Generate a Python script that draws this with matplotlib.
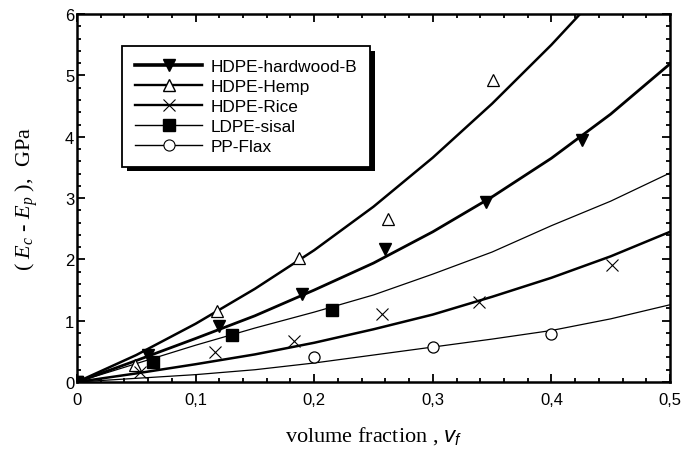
import matplotlib
matplotlib.use("Agg")
import matplotlib.pyplot as plt
from matplotlib.lines import Line2D
from matplotlib.patches import Rectangle
from matplotlib.ticker import MultipleLocator, FuncFormatter

plt.rcParams['font.family'] = ['Liberation Sans', 'DejaVu Sans']
plt.rcParams['mathtext.fontset'] = 'custom'
plt.rcParams['mathtext.rm'] = 'Liberation Serif'
plt.rcParams['mathtext.it'] = 'Liberation Serif:italic'
plt.rcParams['mathtext.sf'] = 'Liberation Sans:italic'

# fitted curves
vf_grid = [0, 0.05, 0.1, 0.15, 0.2, 0.25, 0.3, 0.35, 0.4, 0.45, 0.5]
fit_hemp = [0, 0.44, 0.95, 1.52, 2.15, 2.86, 3.66, 4.54, 5.5, 6.54, 7.66]
fit_hardwood = [0, 0.35, 0.71, 1.08, 1.5, 1.94, 2.45, 3.02, 3.65, 4.37, 5.19]
fit_sisal = [0, 0.3, 0.6, 0.88, 1.14, 1.42, 1.76, 2.12, 2.55, 2.95, 3.41]
fit_rice = [0, 0.14, 0.29, 0.45, 0.64, 0.86, 1.1, 1.39, 1.7, 2.05, 2.45]
fit_flax = [0, 0.06, 0.12, 0.2, 0.31, 0.44, 0.57, 0.7, 0.84, 1.03, 1.26]

# measured points
hardwood_x = [0, 0.06, 0.12, 0.19, 0.26, 0.345, 0.4255]
hardwood_y = [0, 0.44, 0.92, 1.44, 2.17, 2.93, 3.94]
hemp_x = [0.049, 0.118, 0.187, 0.262, 0.3505]
hemp_y = [0.28, 1.15, 2.03, 2.66, 4.93]
rice_x = [0.053, 0.116, 0.183, 0.257, 0.339, 0.451]
rice_y = [0.16, 0.49, 0.67, 1.11, 1.31, 1.91]
sisal_x = [0, 0.064, 0.131, 0.215]
sisal_y = [0, 0.33, 0.76, 1.17]
flax_x = [0.2, 0.3, 0.4]
flax_y = [0.41, 0.57, 0.79]

labels = ["HDPE-hardwood-B", "HDPE-Hemp", "HDPE-Rice", "LDPE-sisal", "PP-Flax"]

fig = plt.figure(figsize=(6.85, 4.6), dpi=100)
ax = fig.add_axes([0.1124, 0.1674, 0.8657, 0.7996])

ax.plot(vf_grid, fit_hemp, color="k", lw=1.8)
ax.plot(vf_grid, fit_hardwood, color="k", lw=2.0)
ax.plot(vf_grid, fit_sisal, color="k", lw=0.9)
ax.plot(vf_grid, fit_rice, color="k", lw=1.8)
ax.plot(vf_grid, fit_flax, color="k", lw=0.9)

ax.plot(hemp_x, hemp_y, ls="none", marker="^", ms=9, mfc="white", mec="k", mew=0.9)
ax.plot(rice_x, rice_y, ls="none", marker="x", ms=9, color="k", mew=0.8)
ax.plot(flax_x, flax_y, ls="none", marker="o", ms=8, mfc="white", mec="k", mew=0.9)
ax.plot(hardwood_x, hardwood_y, ls="none", marker="v", ms=9, color="k")
ax.plot(sisal_x, sisal_y, ls="none", marker="s", ms=8, color="k")

ax.set_xlim(0, 0.5)
ax.set_ylim(0, 6)

ax.xaxis.set_major_locator(MultipleLocator(0.1))
ax.xaxis.set_minor_locator(MultipleLocator(0.02))
ax.yaxis.set_major_locator(MultipleLocator(1))
ax.yaxis.set_minor_locator(MultipleLocator(0.2))
ax.xaxis.set_major_formatter(FuncFormatter(lambda v, p: ("%g" % round(v, 2)).replace(".", ",")))
ax.yaxis.set_major_formatter(FuncFormatter(lambda v, p: "%d" % round(v)))
ax.tick_params(which="both", direction="in", top=True, right=True, labelsize=12, width=1.3)
ax.tick_params(which="major", length=6)
ax.tick_params(which="minor", length=3)
ax.tick_params(axis="x", which="major", pad=7)
ax.tick_params(axis="y", which="major", pad=2)
for s in ax.spines.values():
    s.set_linewidth(1.8)

ax.set_xlabel(r"volume fraction , $\mathsf{v_f}$", family="Liberation Serif", fontsize=16, labelpad=13)
ax.set_ylabel(r"( $E_c$ - $E_p$ ),  GPa", family="Liberation Serif", fontsize=16, labelpad=18)

handles = [
    Line2D([], [], color="k", lw=2.6, marker="v", ms=9),
    Line2D([], [], color="k", lw=1.7, marker="^", ms=9, mfc="white"),
    Line2D([], [], color="k", lw=1.7, marker="x", ms=9, mew=0.8),
    Line2D([], [], color="k", lw=1.0, marker="s", ms=8),
    Line2D([], [], color="k", lw=1.0, marker="o", ms=8, mfc="white", mew=0.8),
]
leg = ax.legend(handles, labels, loc="upper left", bbox_to_anchor=(0.076, 0.913),
                borderaxespad=0, fontsize=12.4, handlelength=3.9, handletextpad=0.5,
                numpoints=1, labelspacing=0.28, borderpad=0.75, fancybox=False,
                edgecolor="k", framealpha=1)
leg.get_frame().set_linewidth(1.3)

# black drop shadow behind the legend box
fig.canvas.draw()
bb = leg.get_frame().get_window_extent().transformed(fig.transFigure.inverted())
dx, dy = 4.5 / 685, 4.5 / 460
shadow = Rectangle((bb.x0 + dx, bb.y0 - dy), bb.width, bb.height, transform=fig.transFigure,
                   facecolor="k", edgecolor="none", zorder=4.9)
ax.add_patch(shadow)

fig.savefig("out.png", dpi=100)
